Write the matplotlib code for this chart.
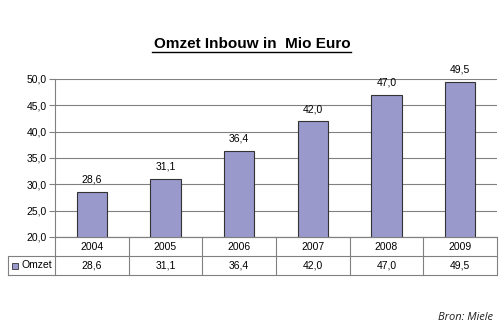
import matplotlib
matplotlib.use("Agg")
import matplotlib.pyplot as plt
from matplotlib.transforms import blended_transform_factory
from matplotlib.patches import Rectangle

years = ["2004", "2005", "2006", "2007", "2008", "2009"]
omzet = [28.6, 31.1, 36.4, 42.0, 47.0, 49.5]
yticks = [20.0, 25.0, 30.0, 35.0, 40.0, 45.0, 50.0]
series_name = "Omzet"
title = "Omzet Inbouw in  Mio Euro"
source = "Bron: Miele"

def fmt(v):
    return f"{v:.1f}".replace(".", ",")

plt.rcParams['font.family'] = ['Liberation Sans', 'DejaVu Sans']
W, H = 500, 330
fig = plt.figure(figsize=(5, 3.3), dpi=100)
fig.patch.set_facecolor("white")

x0, x1 = 55, 497
ytop, ybot = 79, 237
ax = fig.add_axes([x0 / W, 1 - ybot / H, (x1 - x0) / W, (ybot - ytop) / H])
bar_color = "#9999cc"
xs = list(range(len(years)))
ax.bar(xs, omzet, width=0.41, color=bar_color, edgecolor="#333333", linewidth=0.8, zorder=3)
ax.set_xlim(-0.5, len(years) - 0.5)
ax.set_ylim(20, 50)
ax.set_yticks(yticks)
ax.set_yticklabels([fmt(v) for v in yticks], fontsize=7.5)
ax.set_xticks([])
ax.grid(axis="y", color="#808080", linewidth=0.8, zorder=0)
for s in ["top", "right"]:
    ax.spines[s].set_visible(False)
ax.spines["left"].set_color("#808080")
ax.spines["bottom"].set_color("#808080")
ax.tick_params(axis="y", length=4, color="#808080", pad=2)
for x, v in zip(xs, omzet):
    ax.annotate(fmt(v), (x, v), xytext=(0, 5), textcoords="offset points",
                ha="center", va="bottom", fontsize=7.5)

# table
tr = blended_transform_factory(ax.transData, fig.transFigure)
r0, r1, r2 = 1 - 237 / H, 1 - 256 / H, 1 - 275 / H
lc = "#808080"
lw = 0.8
ax_lines = []
# horizontal lines
fig.add_artist(plt.Line2D([x0 / W, x1 / W], [r0, r0], transform=fig.transFigure, color=lc, lw=lw))
fig.add_artist(plt.Line2D([8 / W, x1 / W], [r1, r1], transform=fig.transFigure, color=lc, lw=lw))
fig.add_artist(plt.Line2D([8 / W, x1 / W], [r2, r2], transform=fig.transFigure, color=lc, lw=lw))
fig.add_artist(plt.Line2D([8 / W, 8 / W], [r1, r2], transform=fig.transFigure, color=lc, lw=lw))
for b in [i - 0.5 for i in range(len(years) + 1)]:
    fig.add_artist(plt.Line2D([b, b], [r0, r2], transform=tr, color=lc, lw=lw))
for x, y, v in zip(xs, years, omzet):
    fig.text(x, (r0 + r1) / 2, y, transform=tr, ha="center", va="center", fontsize=7.5)
    fig.text(x, (r1 + r2) / 2, fmt(v), transform=tr, ha="center", va="center", fontsize=7.5)
fig.add_artist(Rectangle((12 / W, (r1 + r2) / 2 - 3 / H), 6 / W, 6 / H, transform=fig.transFigure,
                         facecolor=bar_color, edgecolor="#333333", lw=0.6))
fig.text(22 / W, (r1 + r2) / 2, series_name, ha="left", va="center", fontsize=7.5)

fig.text(252 / W, 1 - 44 / H, title, ha="center", va="center", fontsize=11, fontweight="bold")
fig.add_artist(plt.Line2D([152 / W, 351 / W], [1 - 52 / H, 1 - 52 / H], transform=fig.transFigure, color="black", lw=1))
fig.text(493 / W, 1 - 318 / H, source, ha="right", va="center", fontsize=8, style="italic",
         family=["Open Sans", "DejaVu Sans"], color="#222222")

fig.savefig("out.png", dpi=100)
